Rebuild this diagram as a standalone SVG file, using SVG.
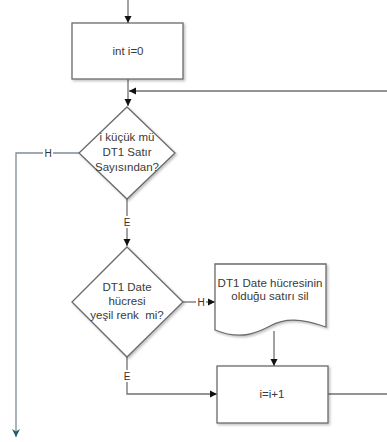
<svg xmlns="http://www.w3.org/2000/svg" width="387" height="442" viewBox="0 0 387 442">
<defs>
<marker id="ah" markerWidth="8" markerHeight="8" refX="7" refY="4" orient="auto" markerUnits="userSpaceOnUse"><path d="M0,0.5 L7,4 L0,7.5 Z" fill="#111"/></marker>
<marker id="ahb" markerWidth="10" markerHeight="10" refX="8" refY="4.5" orient="auto" markerUnits="userSpaceOnUse"><path d="M0,0.5 L8,4.5 L0,8.5 L2.5,4.5 Z" fill="#1f5a6e"/></marker>
<filter id="sh" x="-10%" y="-10%" width="130%" height="130%"><feDropShadow dx="1.5" dy="1.5" stdDeviation="1" flood-color="#000" flood-opacity="0.25"/></filter>
</defs>
<style>
.n{fill:#fff;stroke:#6a6a6a;stroke-width:1.3;filter:url(#sh)}
.t{font-family:"Liberation Sans",Arial,sans-serif;font-size:11.5px;fill:#3a3a3a;text-anchor:middle}
.c{fill:none;stroke:#707070;stroke-width:1.3}
.l{font-family:"Liberation Sans",Arial,sans-serif;font-size:10px;fill:#333;text-anchor:middle}
.lb{fill:#fff}
</style>
<rect width="387" height="442" fill="#fff"/>
<g id="connectors">
<path class="c" d="M128,0 V23" marker-end="url(#ah)"/>
<path class="c" d="M128,79 V106" marker-end="url(#ah)"/>
<path class="c" d="M387,91 H129" marker-end="url(#ah)"/>
<path class="c" d="M79,153 H16 V437" style="stroke:#7f8c94" marker-end="url(#ahb)"/>
<rect class="lb" x="43" y="147" width="10" height="12"/>
<text class="l" x="48" y="157">H</text>
<path class="c" d="M127,199 V246" marker-end="url(#ah)"/>
<rect class="lb" x="122" y="216" width="10" height="12"/>
<text class="l" x="127" y="226">E</text>
<path class="c" d="M183,302 H215" marker-end="url(#ah)"/>
<rect class="lb" x="196" y="296" width="10" height="12"/>
<text class="l" x="201" y="306">H</text>
<path class="c" d="M274,331 V366" marker-end="url(#ah)"/>
<path class="c" d="M127,357 V394 H217" marker-end="url(#ah)"/>
<rect class="lb" x="122" y="370" width="10" height="12"/>
<text class="l" x="127" y="380">E</text>
<path class="c" d="M328,394 H387"/>
</g>
<g id="n1">
<rect class="n" x="72" y="23" width="111" height="56"/>
<text class="t" x="128" y="55">int i=0</text>
</g>
<g id="n2">
<polygon class="n" points="127,107 175,153 127,199 79,153"/>
<text class="t" x="127" y="141">i küçük mü</text>
<text class="t" x="127" y="156">DT1 Satır</text>
<text class="t" x="127" y="171">Sayısından?</text>
</g>
<g id="n3">
<polygon class="n" points="127,247 183,302 127,357 72,302"/>
<text class="t" x="127" y="291">DT1 Date</text>
<text class="t" x="127" y="305">hücresi</text>
<text class="t" x="127" y="319" xml:space="preserve" style="white-space:pre">yeşil renk  mi?</text>
</g>
<g id="n4">
<path class="n" d="M215,264 H326 V327 C300,318 285,318 270,326 C255,334 240,340 215,330 Z"/>
<text class="t" x="270" y="287">DT1 Date hücresinin</text>
<text class="t" x="270" y="300">olduğu satırı sil</text>
</g>
<g id="n5">
<rect class="n" x="217" y="366" width="111" height="57"/>
<text class="t" x="272" y="398">i=i+1</text>
</g>
</svg>
